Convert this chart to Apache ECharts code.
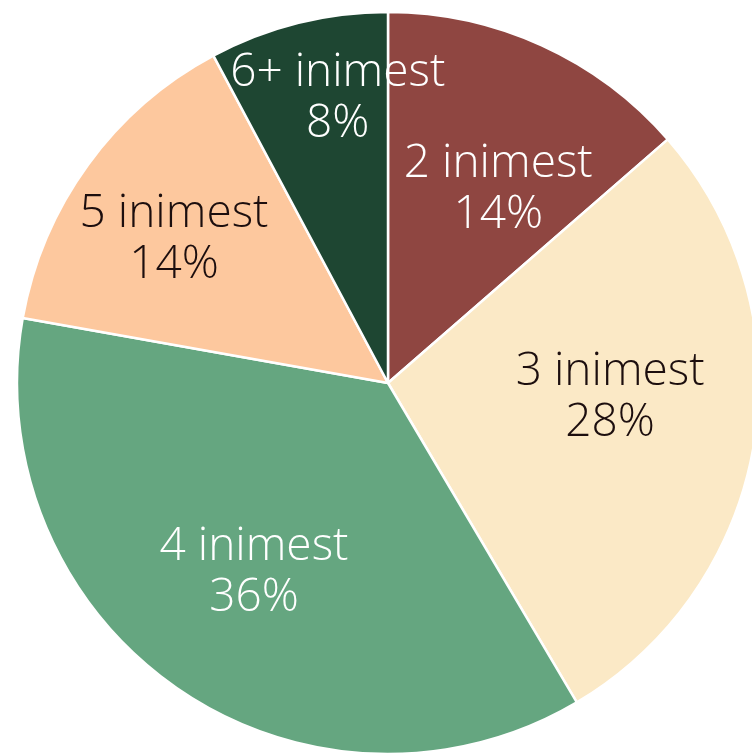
<!DOCTYPE html>
<html>
<head>
<meta charset="utf-8">
<script src="https://cdn.jsdelivr.net/npm/echarts@6/dist/echarts.min.js"></script>
<style>
html,body{margin:0;padding:0;background:#fff;}
#chart{width:752px;height:756px;}
</style>
</head>
<body>
<div id="chart"></div>
<script>
// Data
const categories = ['2 inimest', '3 inimest', '4 inimest', '5 inimest', '6+ inimest'];
const values = [13.6, 27.9, 36.3, 14.4, 7.8];

// Styles
const colors = ['#8F4641', '#FBE9C6', '#65A680', '#FDC89E', '#1E4632'];
const labelColors = ['#ffffff', '#1c0e0e', '#ffffff', '#1c0e0e', '#ffffff'];
// label placement: [angle from top clockwise (deg), radius fraction]
const labelPolar = [[29.7, 0.60], [93.6, 0.60], [215.3, 0.625], [303.8, 0.694], [350.0, 0.78]];

const CX = 388, CY = 383, R = 371;

const chart = echarts.init(document.getElementById('chart'), null, {renderer: 'canvas'});
const total = values.reduce((a, b) => a + b, 0);

chart.setOption({
  animation: false,
  backgroundColor: '#ffffff',
  series: [{
    type: 'pie',
    center: [CX, CY],
    radius: [0, R],
    startAngle: 90,
    clockwise: true,
    avoidLabelOverlap: false,
    itemStyle: {borderColor: '#ffffff', borderWidth: 2.5},
    label: {
      show: true,
      position: 'inside',
      fontFamily: 'Open Sans',
      fontWeight: 300,
      fontSize: 46,
      lineHeight: 51,
      align: 'center',
      formatter: p => p.name + '\n' + Math.round(p.value / total * 100) + '%'
    },
    labelLine: {show: false},
    labelLayout: function (params) {
      const lp = labelPolar[params.dataIndex];
      const a = lp[0] * Math.PI / 180;
      const tx = CX + R * lp[1] * Math.sin(a);
      const ty = CY - R * lp[1] * Math.cos(a);
      const rc = params.labelRect;
      return {dx: tx - (rc.x + rc.width / 2), dy: ty - (rc.y + rc.height / 2)};
    },
    data: categories.map((c, i) => ({
      name: c,
      value: values[i],
      itemStyle: {color: colors[i]},
      label: {color: labelColors[i]}
    }))
  }]
});
</script>
</body>
</html>
